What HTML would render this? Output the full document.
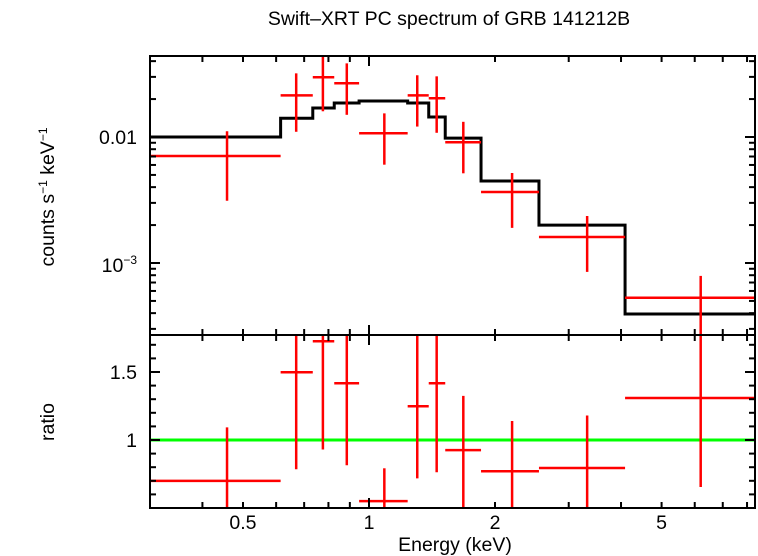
<!DOCTYPE html>
<html><head><meta charset="utf-8"><style>
html,body{margin:0;padding:0;background:#fff;}
svg{display:block;font-family:"Liberation Sans",sans-serif;}
</style></head><body>
<svg id="chart" width="758" height="556" viewBox="0 0 758 556" xmlns="http://www.w3.org/2000/svg">
<text x="449" y="25" font-size="19.5" text-anchor="middle">Swift–XRT PC spectrum of GRB 141212B</text>
<text transform="translate(54,197) rotate(-90)" font-size="19.5" text-anchor="middle">counts s<tspan font-size="12" dy="-7">−1</tspan><tspan dy="7"> keV</tspan><tspan font-size="12" dy="-7">−1</tspan></text>
<text transform="translate(54,422) rotate(-90)" font-size="19.5" text-anchor="middle">ratio</text>
<text x="455" y="551" font-size="19.5" text-anchor="middle">Energy (keV)</text>
<g id="g"></g>
</svg>
<script>
const binLo=[0.3,0.615,0.734,0.826,0.947,1.237,1.389,1.521,1.852,2.547,4.09];
const binHi=[0.615,0.734,0.826,0.947,1.237,1.389,1.521,1.852,2.547,4.09,8.36];
const binCen=[0.458,0.67,0.776,0.885,1.088,1.304,1.451,1.68,2.197,3.32,6.2];
const rate=[0.00707,0.0214,0.0298,0.0267,0.0107,0.0214,0.0203,0.00908,0.00366,0.00161,0.00053];
const rateHi=[0.0111,0.032,0.044,0.0384,0.0154,0.0309,0.0303,0.0132,0.00518,0.00236,0.00079];
const rateLo=[0.00312,0.011,0.016,0.015,0.00603,0.0121,0.0108,0.00515,0.0019,0.00085,0.0002];
const model=[0.0100,0.0141,0.0170,0.0186,0.0193,0.0186,0.0144,0.0098,0.00448,0.0020,0.000394];
const ratio=[0.699,1.498,1.726,1.417,0.551,1.248,1.417,0.926,0.77,0.794,1.309];
const ratioHi=[1.093,2.2,2.2,2.2,0.792,2.2,2.2,1.324,1.14,1.18,2.2];
const ratioLo=[0.3,0.785,0.93,0.814,0.3,0.718,0.763,0.3,0.3,0.3,0.654];
const xTicksMajor=[1];
const xTicksMinor=[0.4,0.5,0.6,0.7,0.8,0.9,2,3,4,5,6,7,8];
const xLabels=[0.5,1,2,5];
const ratioTicks=[0.6,0.7,0.8,0.9,1,1.1,1.2,1.3,1.4,1.5,1.6,1.7];

const L=150,R=755,T=56,M=335,B=508;
const X=e=>369+418.6*Math.log10(e);
const Y=v=>137-126*(Math.log10(v)+2);
const YR=r=>440-136*(r-1);
const cl=(v,a,b)=>Math.max(a,Math.min(b,v));
const NS='http://www.w3.org/2000/svg';
const g=document.getElementById('g');
function mk(t,a){const e=document.createElementNS(NS,t);for(const k in a)e.setAttribute(k,a[k]);g.appendChild(e);return e;}
function line(x1,y1,x2,y2,c,w){return mk('line',{x1,y1,x2,y2,stroke:c,'stroke-width':w});}

let d='';
for(let i=0;i<model.length;i++){const y=Y(model[i]);d+=(i?'L':'M')+X(binLo[i])+','+y+'L'+X(binHi[i])+','+y;}
const mp=mk('path',{d,fill:'none',stroke:'#000','stroke-width':3});


const gl=line(L,YR(1),R,YR(1),'#00ff00',3);



for(let i=0;i<rate.length;i++){
 const h=line(cl(X(binLo[i]),L,R),Y(rate[i]),cl(X(binHi[i]),L,R),Y(rate[i]),'#ff0000',2.5);
 
 
 const v=line(X(binCen[i]),cl(Y(rateHi[i]),T,M),X(binCen[i]),cl(Y(rateLo[i]),T,M),'#ff0000',2.5);
 
 
 const ry=YR(ratio[i]);
 if(ry>=M&&ry<=B){
  const h2=line(cl(X(binLo[i]),L,R),ry,cl(X(binHi[i]),L,R),ry,'#ff0000',2.5);
  
  
 }
 const v2=line(X(binCen[i]),cl(YR(ratioHi[i]),M,B),X(binCen[i]),cl(YR(ratioLo[i]),M,B),'#ff0000',2.5);
 
 
}

for(const [y1,y2,n] of [[T,M,'top-panel-frame'],[M,B,'bottom-panel-frame']]){
 const r=mk('rect',{x:L,y:y1,width:R-L,height:y2-y1,fill:'none',stroke:'#000','stroke-width':2});
 
 
}
for(const [arr,len] of [[xTicksMajor,10],[xTicksMinor,6]]){
 for(const e of arr){const x=X(e);
  line(x,T,x,T+len,'#000',2);line(x,M,x,M-len,'#000',2);line(x,M,x,M+len,'#000',2);line(x,B,x,B-len,'#000',2);}
}
for(const e of xLabels){const t=mk('text',{x:X(e),y:529,'font-size':19.5,'text-anchor':'middle'});t.textContent=String(e);
 
 }
for(let p=-4;p<=-1;p++)for(let k=1;k<10;k++){const v=k*Math.pow(10,p);const y=Y(v);if(y<T||y>M)continue;const len=k===1?10:6;
 line(L,y,L+len,y,'#000',2);line(R,y,R-len,y,'#000',2);}
for(const [v,s] of [[0.01,'0.01']]){const t=mk('text',{x:137,y:Y(v)+7,'font-size':19.5,'text-anchor':'end'});t.textContent=s;
 
 }
const t3=mk('text',{x:137,y:Y(0.001)+9,'font-size':19.5,'text-anchor':'end'});
t3.innerHTML='10<tspan font-size="12" dy="-8">−3</tspan>';


for(const r of ratioTicks){const y=YR(r);const len=(Math.abs(r-1.5)<1e-6||Math.abs(r-1)<1e-6)?10:6;
 line(L,y,L+len,y,'#000',2);line(R,y,R-len,y,'#000',2);}
for(const [v,s] of [[1.5,'1.5'],[1,'1']]){const t=mk('text',{x:137,y:YR(v)+7,'font-size':19.5,'text-anchor':'end'});t.textContent=s;
 
 }
</script>
</body></html>
